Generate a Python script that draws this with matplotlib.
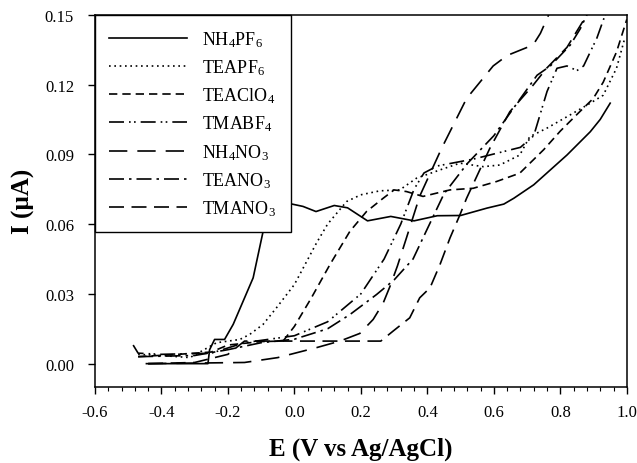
import numpy as np
import matplotlib
matplotlib.use("Agg")
import matplotlib.pyplot as plt

plt.rcParams['font.family'] = ['Liberation Serif', 'DejaVu Serif']
plt.rcParams['mathtext.default'] = 'regular'

# === Données ===
x_nh4pf6 = [-0.445, -0.26, -0.255, -0.24, -0.21, -0.184, -0.154, -0.124, -0.094, -0.054, -0.02,
            0.026, 0.065, 0.12, 0.16, 0.22, 0.29, 0.36, 0.43, 0.50, 0.58, 0.63, 0.66, 0.72,
            0.82, 0.89, 0.92, 0.95]
y_nh4pf6 = [0.0, 0.0, 0.006, 0.0104, 0.0104, 0.0169, 0.0269, 0.0369, 0.0569, 0.0669, 0.069,
            0.0676, 0.0654, 0.068, 0.067, 0.0614, 0.0633, 0.0614, 0.0636, 0.0637, 0.0669, 0.0686,
            0.0711, 0.0769, 0.0897, 0.0997, 0.105, 0.112]

x_teapf6 = [-0.47, -0.4, -0.314, -0.234, -0.164, -0.134, -0.094, -0.054, 0.0, 0.067, 0.1,
            0.157, 0.2, 0.257, 0.317, 0.367, 0.438, 0.498, 0.568, 0.618, 0.678, 0.708, 0.759,
            0.829, 0.889, 0.929, 0.969, 0.994]
y_teapf6 = [0.004, 0.0035, 0.0026, 0.009, 0.0104, 0.0126, 0.0169, 0.024, 0.034, 0.052, 0.06,
            0.0697, 0.0726, 0.0743, 0.0747, 0.0797, 0.0833, 0.0862, 0.0847, 0.0854, 0.0897,
            0.0976, 0.1012, 0.1069, 0.1119, 0.1154, 0.127, 0.14]

x_teaclo4 = [-0.47, -0.35, -0.25, -0.2, -0.1, -0.034, 0.0, 0.05, 0.107, 0.167, 0.217, 0.267,
             0.3, 0.337, 0.387, 0.468, 0.538, 0.608, 0.678, 0.75, 0.8, 0.849, 0.899, 0.929,
             0.969, 1.0]
y_teaclo4 = [0.003, 0.004, 0.005, 0.008, 0.0095, 0.0097, 0.016, 0.028, 0.0426, 0.0569, 0.0654,
             0.0711, 0.0747, 0.074, 0.0719, 0.0747, 0.0754, 0.0783, 0.0819, 0.092, 0.1, 0.107,
             0.114, 0.121, 0.134, 0.148]

x_tmabf4 = [-0.485, -0.47, -0.4, -0.25, -0.15, 0.0, 0.1, 0.2, 0.27, 0.32, 0.36, 0.39, 0.43,
            0.54, 0.68, 0.72, 0.76, 0.79, 0.82, 0.85, 0.87, 0.88, 0.91, 0.935]
y_tmabf4 = [0.008, 0.0045, 0.004, 0.0045, 0.009, 0.012, 0.018, 0.03, 0.045, 0.06, 0.075, 0.082,
            0.085, 0.088, 0.093, 0.098, 0.117, 0.127, 0.128, 0.126, 0.128, 0.131, 0.14, 0.15]

x_nh4no3 = [-0.44, -0.15, -0.05, 0.067, 0.137, 0.197, 0.237, 0.267, 0.287, 0.31, 0.337, 0.377,
            0.443, 0.518, 0.598, 0.64, 0.678, 0.718, 0.74, 0.765]
y_nh4no3 = [0.0, 0.0005, 0.0026, 0.0069, 0.0097, 0.013, 0.019, 0.026, 0.033, 0.042, 0.054,
            0.072, 0.0926, 0.114, 0.128, 0.1325, 0.1347, 0.137, 0.142, 0.15]

x_teano3 = [-0.47, -0.3, -0.2, -0.1, 0.0, 0.1, 0.167, 0.247, 0.3, 0.357, 0.4, 0.45, 0.52, 0.6,
            0.67, 0.73, 0.77, 0.83, 0.86, 0.88]
y_teano3 = [0.003, 0.0035, 0.006, 0.009, 0.0105, 0.015, 0.0211, 0.0297, 0.036, 0.045, 0.058,
            0.073, 0.086, 0.098, 0.112, 0.124, 0.128, 0.137, 0.144, 0.15]

x_tmano3 = [-0.44, -0.3, -0.2, -0.15, 0.0, 0.1, 0.2, 0.26, 0.297, 0.347, 0.377, 0.408, 0.438,
            0.468, 0.498, 0.518, 0.588, 0.648, 0.718, 0.758, 0.82, 0.88]
y_tmano3 = [0.0, 0.0005, 0.004, 0.0097, 0.0097, 0.0097, 0.0097, 0.0097, 0.014, 0.0197, 0.0283,
            0.0326, 0.0426, 0.054, 0.064, 0.0711, 0.0926, 0.1083, 0.1197, 0.1269, 0.136, 0.15]

x_ticks = [-0.6, -0.4, -0.2, 0.0, 0.2, 0.4, 0.6, 0.8, 1.0]
x_ticklabels = ['-0.6', '-0.4', '-0.2', '0.0', '0.2', '0.4', '0.6', '0.8', '1.0']
y_ticks = [0.0, 0.03, 0.06, 0.09, 0.12, 0.15]
y_ticklabels = ['0.00', '0.03', '0.06', '0.09', '0.12', '0.15']

series = [
    ("NH$_4$PF$_6$", x_nh4pf6, y_nh4pf6, '-'),
    ("TEAPF$_6$", x_teapf6, y_teapf6, (0, (1, 2.2))),
    ("TEAClO$_4$", x_teaclo4, y_teaclo4, (0, (5, 3))),
    ("TMABF$_4$", x_tmabf4, y_tmabf4, (0, (9, 3, 1, 2, 1, 3))),
    ("NH$_4$NO$_3$", x_nh4no3, y_nh4no3, (0, (11, 6))),
    ("TEANO$_3$", x_teano3, y_teano3, (0, (9, 3, 1.5, 3))),
    ("TMANO$_3$", x_tmano3, y_tmano3, (0, (9, 4.5))),
]

fig = plt.figure(figsize=(6.37, 4.64), dpi=100)
ax = fig.add_axes([0.149, 0.164, 0.835, 0.802])

for label, xs, ys, ls in series:
    ax.plot(xs, ys, color='black', linestyle=ls, linewidth=1.2, label=label)

ax.set_xlim(-0.6, 1.0)
ax.set_ylim(-0.01, 0.15)
ax.set_xticks(x_ticks)
ax.set_xticklabels(x_ticklabels)
ax.set_xticks(np.arange(-0.6, 1.001, 0.04), minor=True)
ax.set_yticks(y_ticks)
ax.set_yticklabels(y_ticklabels)
ax.tick_params(axis='x', which='major', direction='out', length=5, width=1,
               labelsize=12, top=False, pad=7)
ax.tick_params(axis='y', which='major', direction='out', length=5, width=1,
               labelsize=12, right=False, pad=10)
ax.tick_params(axis='x', which='minor', direction='out', length=3, width=0.8, top=False)
for sp in ax.spines.values():
    sp.set_linewidth(1.1)

ax.set_xlabel("E (V vs Ag/AgCl)", fontsize=18, fontweight='bold', labelpad=12)
ax.set_ylabel("I (µA)", fontsize=18, fontweight='bold', labelpad=7)

leg = ax.legend(loc='upper left', borderaxespad=0, fontsize=13, handlelength=4.3,
                handletextpad=0.85, labelspacing=0.47, borderpad=0.8, fancybox=False,
                framealpha=1)
leg.get_frame().set_edgecolor('black')
leg.get_frame().set_linewidth(1.0)

fig.savefig("out.png", dpi=100)
